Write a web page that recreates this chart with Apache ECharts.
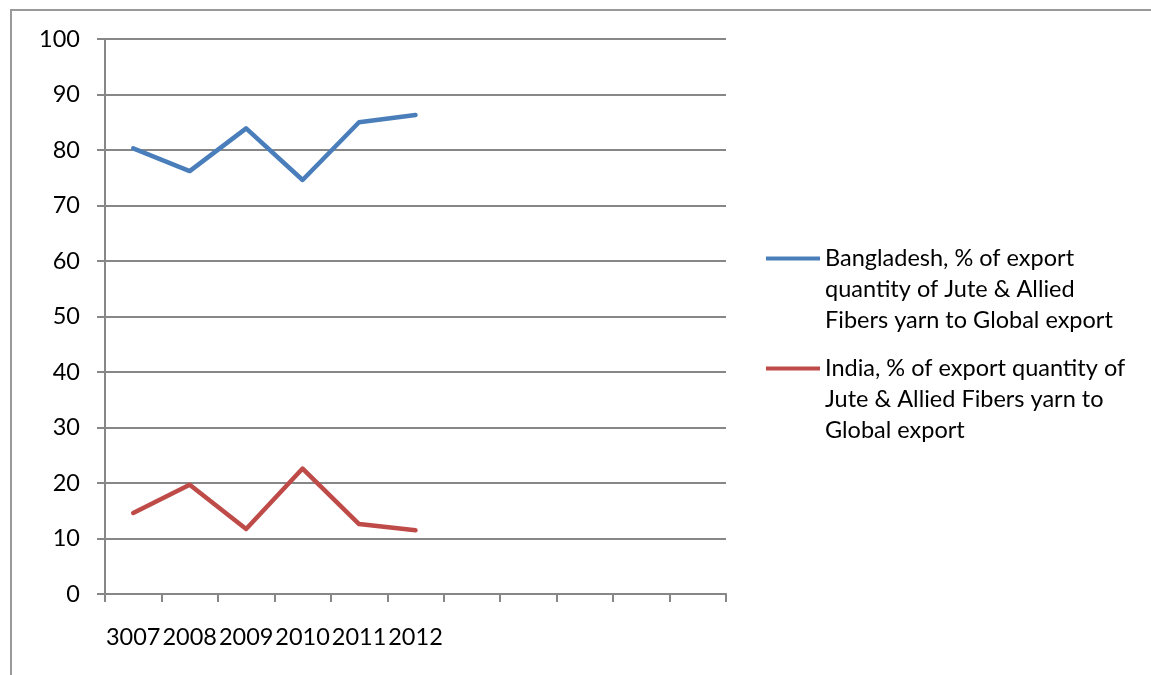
<!DOCTYPE html>
<html>
<head>
<meta charset="utf-8">
<script src="https://cdn.jsdelivr.net/npm/echarts@6/dist/echarts.min.js"></script>
<style>
html,body{margin:0;padding:0;background:#fff;}
#chart{width:1151px;height:675px;}
</style>
</head>
<body>
<div id="chart"></div>
<script>
var categories = ['3007', '2008', '2009', '2010', '2011', '2012', '', '', '', '', ''];
var bangladeshName = 'Bangladesh, % of export quantity of Jute & Allied Fibers yarn to Global export';
var indiaName = 'India, % of export quantity of Jute & Allied Fibers yarn to Global export';
var bangladeshValues = [80.3, 76.2, 83.9, 74.6, 85.0, 86.3];
var indiaValues = [14.6, 19.7, 11.7, 22.6, 12.6, 11.5];
var yTicks = { min: 0, max: 100, interval: 10 };

var FONT = 'Lato';
var FS = 23.5;
var chart = echarts.init(document.getElementById('chart'));
var legendText = {};
legendText[bangladeshName] = '\n\nBangladesh, % of export\nquantity of Jute & Allied\nFibers yarn to Global export';
legendText[indiaName] = '\n\nIndia, % of export quantity of\nJute & Allied Fibers yarn to\nGlobal export';

function legendCfg(name, top) {
  return {
    data: [name],
    left: 766,
    top: top,
    orient: 'vertical',
    icon: 'rect',
    itemWidth: 54,
    itemHeight: 4,
    padding: 0,
    formatter: function (n) { return legendText[n]; },
    textStyle: { fontFamily: FONT, fontSize: FS, color: '#000', lineHeight: 31 }
  };
}

chart.setOption({
  animation: false,
  backgroundColor: '#fff',
  graphic: [{
    type: 'rect',
    shape: { x: 11, y: 10, width: 1200, height: 700 },
    style: { fill: 'none', stroke: '#999', lineWidth: 2 },
    silent: true
  }],
  grid: { left: 105, right: 1151 - 726, top: 39, bottom: 675 - 594, containLabel: false },
  legend: [legendCfg(bangladeshName, 181), legendCfg(indiaName, 291)],
  xAxis: {
    type: 'category',
    data: categories,
    boundaryGap: true,
    axisLine: { lineStyle: { color: '#878787', width: 2 } },
    axisTick: { show: true, length: 8, interval: 0, lineStyle: { color: '#878787', width: 2 } },
    axisLabel: { interval: 0, margin: 31, color: '#000', fontFamily: FONT, fontSize: FS, hideOverlap: false },
    splitLine: { show: false }
  },
  yAxis: {
    type: 'value',
    min: yTicks.min,
    max: yTicks.max,
    interval: yTicks.interval,
    axisLine: { show: true, lineStyle: { color: '#878787', width: 2 } },
    axisTick: { show: true, length: 8, lineStyle: { color: '#878787', width: 2 } },
    axisLabel: { margin: 25, color: '#000', fontFamily: FONT, fontSize: FS },
    splitLine: { show: true, lineStyle: { color: '#878787', width: 2 } }
  },
  series: [{
    name: bangladeshName,
    type: 'line',
    data: bangladeshValues,
    showSymbol: false,
    symbol: 'none',
    color: '#4A7EBB',
    lineStyle: { width: 4.5, color: '#4A7EBB', cap: 'round', join: 'round' }
  }, {
    name: indiaName,
    type: 'line',
    data: indiaValues,
    showSymbol: false,
    symbol: 'none',
    color: '#BE4B48',
    lineStyle: { width: 4.5, color: '#BE4B48', cap: 'round', join: 'round' }
  }]
});
</script>
</body>
</html>
